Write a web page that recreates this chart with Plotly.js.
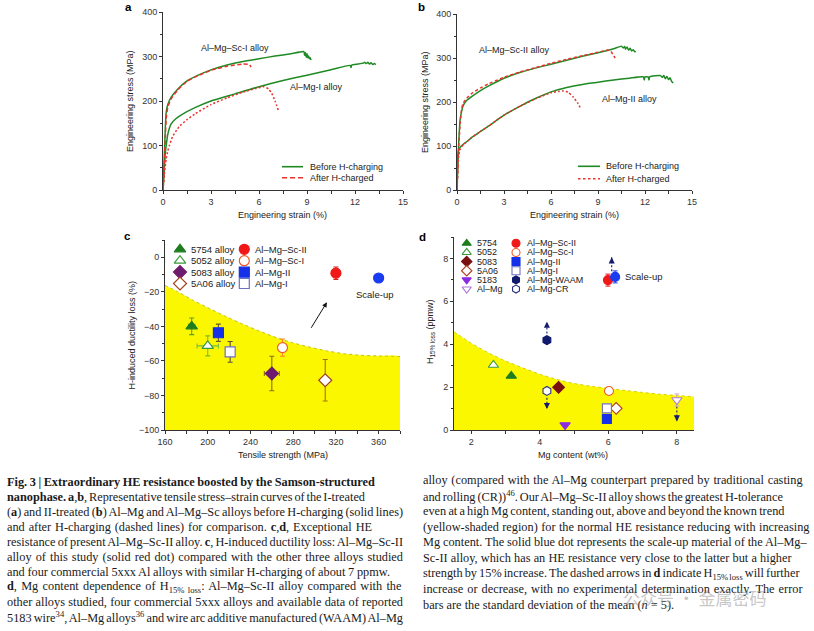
<!DOCTYPE html>
<html><head><meta charset="utf-8">
<script src="https://cdn.plot.ly/plotly-3.0.1.min.js"></script>
<style>html,body{margin:0;padding:0;background:#fff}#chart{width:814px;height:631px}</style>
</head><body><div id="chart"></div>
<script>
// ---------------- DATA ----------------
// Panel a (I-treated) stress-strain
const aScIStrain = [0,0.05,0.1,0.15,0.2,0.3,0.5,0.9,1.5,2.2,3,4,5,6,7,8,8.8,8.85,8.9,8.95,9.0,9.05,9.1,9.15,9.2,9.25];
const aScIStress = [0,45,95,145,175,192,208,226,245,258,270,281,289,295,301,306,311,303,309,298,306,297,301,295,297,292];
const aScIHStrain = [0,0.05,0.1,0.15,0.2,0.3,0.5,0.9,1.5,2.2,3,4,5,5.4,5.5];
const aScIHStress = [0,30,70,120,160,186,204,224,244,257,269,278,283,282,276];
const aMgIStrain = [0,0.05,0.1,0.15,0.2,0.3,0.5,0.8,1.2,2,3,4.5,6,7.5,9,10.5,11.7,11.75,11.8,12.2,12.5,12.6,12.7,12.8,12.9,13.0,13.1,13.2,13.3];
const aMgIStress = [0,30,60,85,100,125,148,160,170,185,200,216,232,246,258,270,280,275,281,283,285,287,284,287,283,286,282,284,282];
const aMgIHStrain = [0,0.1,0.2,0.3,0.4,0.6,1,1.5,2,3,4,5,5.8,6.3,6.6,6.8,7.0,7.2];
const aMgIHStress = [0,40,70,88,100,120,142,158,171,192,207,220,228,232,227,217,200,180];
// Panel b (II-treated)
const bScIIStrain = [0,0.05,0.1,0.2,0.3,0.4,0.6,1,1.5,2,3,4,5,6,7,8,9,10,10.5,10.6,10.7,10.75,10.85,10.95,11.05,11.15,11.25,11.35,11.4];
const bScIIStress = [0,50,100,160,180,192,203,214,226,236,254,267,277,286,295,304,312,321,327,323,326,320,325,318,322,316,319,314,316];
const bScIIHStrain = [0,0.05,0.1,0.2,0.3,0.4,0.6,1,1.5,2,3,4,5,6,7,8,9,9.6,9.8,9.9,10.0,10.1];
const bScIIHStress = [0,40,90,150,185,198,208,221,232,241,256,268,278,288,297,305,313,318,316,311,305,300];
const bMgIIStrain = [0,0.02,0.05,0.1,0.2,0.4,0.7,1,1.5,2,3,4,5,6,7,8,9,10,11,11.9,11.95,12.0,12.2,12.25,12.3,13,13.1,13.2,13.3,13.4,13.5,13.6,13.7,13.8];
const bMgIIStress = [0,60,80,90,97,104,112,121,133,145,170,190,208,223,233,240,245,250,254,257,250,257,257,250,257,260,256,260,253,258,251,255,247,243];
const bMgIIHStrain = [0,0.05,0.1,0.2,0.4,0.7,1,1.5,2,3,4,5,6,6.5,6.8,7.1,7.4,7.7,7.9];
const bMgIIHStress = [0,50,75,92,103,112,121,133,145,170,190,207,221,224,225,222,212,198,185];

// Panel c
const cNames = ['5754 alloy','5052 alloy','5083 alloy','5A06 alloy','Al–Mg–Sc-II','Al–Mg–Sc-I','Al–Mg-II','Al–Mg-I','Scale-up'];
const cStrength = [185,200,260,310,320,270,210,221,360];
const cStrengthErr = [3,10,7,2,3,2,2,2,4];
const cLoss = [-40,-51.3,-67.3,-71.2,-9.2,-52.3,-43.7,-54.8,-12];
const cLossErr = [4.8,5.8,10,12,3.6,5,5,6,1.5];
const cTrendX = [160,171,186.6,202,218,233,249,265,280,296,311.6,327,343,358,380];
const cTrendY = [-16.3,-19.6,-25,-29.8,-34.6,-38.8,-42.9,-46.7,-49.6,-52.1,-54.2,-55.8,-56.7,-57.1,-57.5];
const cArrow = {x0:296, y0:-41.7, x1:311.6, y1:-26};

// Panel d
const dNames = ['5754','5052','5083','5A06','5183','Al–Mg','Al–Mg–Sc-II','Al–Mg–Sc-I','Al–Mg-II','Al–Mg-I','Al–Mg-WAAM','Al–Mg-CR','Scale-up'];
const dMg = [3.17,2.65,4.55,6.23,4.74,8.0,5.99,6.02,5.96,5.96,4.21,4.21,6.2];
const dH = [2.52,3.03,1.99,1.01,0.23,1.40,6.99,1.82,0.51,1.01,4.19,1.82,7.14];
const dHErr = [0,0,0,0,0,0.28,0.28,0,0,0,0,0,0.28];
const dTrendX = [1.5,2,2.5,3,3.5,4,4.5,5,5.5,6,6.5,7,7.5,8,8.5];
const dTrendY = [4.58,4.05,3.6,3.22,2.9,2.6,2.36,2.17,2.04,1.94,1.84,1.75,1.67,1.61,1.55];
const dArrowX = [4.21,6.1,4.21,8.0];
const dArrowFrom = [4.5,7.4,1.5,1.1];
const dArrowTo = [5.05,8.05,0.98,0.4];

// ---------------- STYLES ----------------
const W = 814, H = 631;
const GREEN = '#1f8a24', RED = '#e8322c';
const FONT = 'Liberation Sans, Arial, sans-serif';
const cStyle = [
  {sym:'triangle-up', fill:'#1e7d1e', line:'#1e7d1e', err:'#5aa02c'},
  {sym:'triangle-up', fill:'#ffffff', line:'#3a9a3a', err:'#7cbb3c'},
  {sym:'diamond', fill:'#6e1a6e', line:'#6e1a6e', err:'#8a6d1a'},
  {sym:'diamond', fill:'#ffffff', line:'#a0421e', err:'#a8741a'},
  {sym:'circle', fill:'#f01818', line:'#f01818', err:'#d82020'},
  {sym:'circle', fill:'#ffffff', line:'#f05a28', err:'#f08a28'},
  {sym:'square', fill:'#1530e8', line:'#1530e8', err:'#6a5a2a'},
  {sym:'square', fill:'#ffffff', line:'#7070c0', err:'#555040'},
  {sym:'circle', fill:'#1a3cf0', line:'#1a3cf0', err:'#3050f0'}
];
const dStyle = [
  {sym:'triangle-up', fill:'#1e7d1e', line:'#1e7d1e'},
  {sym:'triangle-up', fill:'#ffffff', line:'#3a9a3a'},
  {sym:'diamond', fill:'#7a0f0f', line:'#7a0f0f'},
  {sym:'diamond', fill:'#ffffff', line:'#b0421e'},
  {sym:'triangle-down', fill:'#8a2be2', line:'#8a2be2'},
  {sym:'triangle-down', fill:'#ffffff', line:'#b07ad8'},
  {sym:'circle', fill:'#f01818', line:'#f01818'},
  {sym:'circle', fill:'#ffffff', line:'#f05a28'},
  {sym:'square', fill:'#1530e8', line:'#1530e8'},
  {sym:'square', fill:'#ffffff', line:'#7070c0'},
  {sym:'hexagon', fill:'#0f1a6e', line:'#0f1a6e'},
  {sym:'hexagon', fill:'#ffffff', line:'#2a3080'},
  {sym:'circle', fill:'#1a3cf0', line:'#1a3cf0'}
];

const traces = [];
function curve(x, y, xa, ya, color, dash) {
  traces.push({x:x, y:y, xaxis:xa, yaxis:ya, type:'scatter', mode:'lines', showlegend:false, hoverinfo:'skip',
    line:{color:color, width:1.5, dash:dash, shape:'spline', smoothing:0.5}});
}
curve(aScIStrain, aScIStress, 'x', 'y', GREEN, 'solid');
curve(aMgIStrain, aMgIStress, 'x', 'y', GREEN, 'solid');
curve(aScIHStrain, aScIHStress, 'x', 'y', RED, '4px,2.5px');
curve(aMgIHStrain, aMgIHStress, 'x', 'y', RED, '2px,2px');
curve(bScIIStrain, bScIIStress, 'x2', 'y2', GREEN, 'solid');
curve(bMgIIStrain, bMgIIStress, 'x2', 'y2', GREEN, 'solid');
curve(bScIIHStrain, bScIIHStress, 'x2', 'y2', RED, '3px,2.5px');
curve(bMgIIHStrain, bMgIIHStress, 'x2', 'y2', RED, '2px,2px');

// c: yellow region
const cRangeX = [160,380], cRangeY = [-100,10];
traces.push({x:cTrendX.concat([cRangeX[1], cRangeX[0]]), y:cTrendY.concat([cRangeY[0], cRangeY[0]]),
  xaxis:'x3', yaxis:'y3', type:'scatter', mode:'lines', fill:'toself', fillcolor:'#fbf700',
  line:{width:0, color:'rgba(0,0,0,0)', shape:'spline', smoothing:0.4}, showlegend:false, hoverinfo:'skip'});
traces.push({x:cTrendX, y:cTrendY, xaxis:'x3', yaxis:'y3', type:'scatter', mode:'lines',
  line:{width:1, color:'#c9c200', dash:'dot', shape:'spline', smoothing:0.4}, showlegend:false, hoverinfo:'skip'});
cStrength.forEach((v,i)=>{
  const s = cStyle[i];
  traces.push({x:[v], y:[cLoss[i]], xaxis:'x3', yaxis:'y3', type:'scatter', mode:'markers', showlegend:false, hoverinfo:'skip',
    marker:{symbol:s.sym, size:10, color:s.fill, line:{color:s.line, width:1.2}},
    error_y:{type:'data', array:[cLossErr[i]], color:s.err, thickness:1.1, width:2.5},
    error_x:{type:'data', array:[cStrengthErr[i]], color:s.err, thickness:1.1, width:2.5}});
});

// d: yellow region
traces.push({x:dTrendX, y:dTrendY, xaxis:'x4', yaxis:'y4', type:'scatter', mode:'lines', fill:'tozeroy', fillcolor:'#fbf700',
  line:{width:1, color:'#d6d000', dash:'dot', shape:'spline', smoothing:0.4}, showlegend:false, hoverinfo:'skip'});
// dashed arrow shafts
dArrowX.forEach((x,i)=>{
  traces.push({x:[x,x], y:[dArrowFrom[i], dArrowTo[i]], xaxis:'x4', yaxis:'y4', type:'scatter', mode:'lines',
    line:{color:'#141c6e', width:1.1, dash:'2px,2px'}, showlegend:false, hoverinfo:'skip'});
});
dMg.forEach((v,i)=>{
  const s = dStyle[i];
  const t = {x:[v], y:[dH[i]], xaxis:'x4', yaxis:'y4', type:'scatter', mode:'markers', showlegend:false, hoverinfo:'skip',
    marker:{symbol:s.sym, size:9, color:s.fill, line:{color:s.line, width:1.1}}};
  if (dHErr[i] > 0) t.error_y = {type:'data', array:[dHErr[i]], color:s.line === '#b07ad8' ? '#d0a8d8' : s.line, thickness:1, width:2.5};
  traces.push(t);
});

// --------- overlay axis (pixel coords) for legends ---------
function legendLine(x0, x1, y, color, dash) {
  traces.push({x:[x0,x1], y:[y,y], xaxis:'x5', yaxis:'y5', type:'scatter', mode:'lines', showlegend:false, hoverinfo:'skip',
    line:{color:color, width:1.6, dash:dash}});
}
legendLine(282, 303, 166.7, GREEN, 'solid');
legendLine(282, 303, 177.7, RED, '5px,3px');
legendLine(578, 600, 166.3, GREEN, 'solid');
legendLine(578, 600, 178.7, RED, '2.5px,2.5px');

const cLegendIdx = [0,1,2,3,4,5,6,7];
const cLegX = cLegendIdx.map(i => i < 4 ? 180 : 244.3);
const cLegY = cLegendIdx.map(i => 249.3 + 11.4 * (i % 4));
traces.push({x:cLegX, y:cLegY, xaxis:'x5', yaxis:'y5', type:'scatter', mode:'markers', showlegend:false, hoverinfo:'skip',
  marker:{symbol:cLegendIdx.map(i=>cStyle[i].sym), size:10, color:cLegendIdx.map(i=>cStyle[i].fill),
    line:{color:cLegendIdx.map(i=>cStyle[i].line), width:1.2}}});
const dLegendIdx = [0,1,2,3,4,5,6,7,8,9,10,11];
const dLegX = dLegendIdx.map(i => i < 6 ? 466.7 : 516);
const dLegY = dLegendIdx.map(i => 243.3 + 9.15 * (i % 6));
traces.push({x:dLegX, y:dLegY, xaxis:'x5', yaxis:'y5', type:'scatter', mode:'markers', showlegend:false, hoverinfo:'skip',
  marker:{symbol:dLegendIdx.map(i=>dStyle[i].sym), size:8, color:dLegendIdx.map(i=>dStyle[i].fill),
    line:{color:dLegendIdx.map(i=>dStyle[i].line), width:1.1}}});

// ---------------- LAYOUT ----------------
const tf = {family:FONT, size:9, color:'#333'};
function ax(domain, range, extra) {
  return Object.assign({domain:domain, range:range, autorange:false, showline:true, linecolor:'#333', linewidth:1,
    ticks:'outside', ticklen:3, tickwidth:1, tickcolor:'#333', showgrid:false, zeroline:false,
    tickfont:tf, fixedrange:true, automargin:false}, extra);
}
function dom(p0, p1) { return [p0 / W, p1 / W]; }
function domY(top, bottom) { return [1 - bottom / H, 1 - top / H]; }
const minor = (d) => ({dtick:d, ticks:'outside', ticklen:2.5, tickcolor:'#333', tickwidth:1, showgrid:false});

const layout = {
  width:W, height:H, margin:{l:0,r:0,t:0,b:0}, paper_bgcolor:'#fff', plot_bgcolor:'rgba(0,0,0,0)',
  showlegend:false, hovermode:false, font:{family:FONT, size:9, color:'#333'},
  xaxis: ax(dom(163,403), [0,15], {anchor:'y', tick0:0, dtick:3, minor:minor(1.5)}),
  yaxis: ax(domY(12,190), [0,400], {anchor:'x', tick0:0, dtick:100, minor:minor(50)}),
  xaxis2: ax(dom(457,692), [0,15], {anchor:'y2', tick0:0, dtick:3, minor:minor(1.5)}),
  yaxis2: ax(domY(14,190), [0,400], {anchor:'x2', tick0:0, dtick:100, minor:minor(50)}),
  xaxis3: ax(dom(165,400), cRangeX, {anchor:'y3', tick0:160, dtick:40, minor:minor(20)}),
  yaxis3: ax(domY(240,430), cRangeY, {anchor:'x3', tick0:0, dtick:20, minor:minor(10)}),
  xaxis4: ax(dom(454,694), [1.5,8.5], {anchor:'y4', tickvals:[2,4,6,8], minor:{tickvals:[2,3,4,5,6,7,8], ticks:'outside', ticklen:2.5, tickcolor:'#333'}}),
  yaxis4: ax(domY(237,430), [0,9], {anchor:'x4', tick0:0, dtick:2, minor:minor(1)}),
  xaxis5: {domain:[0,1], range:[0,W], autorange:false, visible:false, fixedrange:true, anchor:'y5'},
  yaxis5: {domain:[0,1], range:[H,0], autorange:false, visible:false, fixedrange:true, anchor:'x5'},
  annotations: [],
  shapes: []
};
const A = layout.annotations;
function pText(text, x, y, opts) {
  A.push(Object.assign({text:text, x:x, y:y, xref:'x5', yref:'y5', showarrow:false, xanchor:'center', yanchor:'middle',
    font:{family:FONT, size:9, color:'#222'}}, opts || {}));
  return A.length - 1;
}
// panel letters
pText('<b>a</b>', 128, 7, {font:{family:FONT, size:11.5, color:'#000'}});
pText('<b>b</b>', 421, 7, {font:{family:FONT, size:11.5, color:'#000'}});
pText('<b>c</b>', 127, 236, {font:{family:FONT, size:11.5, color:'#000'}});
pText('<b>d</b>', 422, 237, {font:{family:FONT, size:11.5, color:'#000'}});
// axis titles
pText('Engineering stress (MPa)', 130, 101, {textangle:-90});
pText('Engineering strain (%)', 282, 214.5);
pText('Engineering stress (MPa)', 425, 102, {textangle:-90});
pText('Engineering strain (%)', 574, 214.5);
pText('H-induced ductility loss (%)', 131.5, 335, {textangle:-90});
pText('Tensile strength (MPa)', 282.5, 455);
pText('H<sub>15% loss</sub> (ppmw)', 430, 332, {textangle:-90});
pText('Mg content (wt%)', 573, 455);
// a/b legends
pText('Before H-charging', 308, 166.7, {xanchor:'left'});
pText('After H-charged', 308, 177.7, {xanchor:'left'});
pText('Before H-charging', 604, 166.3, {xanchor:'left'});
pText('After H-charged', 604, 178.7, {xanchor:'left'});
// c/d legend labels
cLegendIdx.forEach((i,k)=>pText(cNames[i], cLegX[k] + 9, cLegY[k], {xanchor:'left', font:{family:FONT, size:9.5, color:'#222'}}));
dLegendIdx.forEach((i,k)=>pText(dNames[i], dLegX[k] + 8.5, dLegY[k], {xanchor:'left', font:{family:FONT, size:9, color:'#222'}}));

// curve labels (data coords)
function dText(text, x, y, xr, yr, opts) {
  A.push(Object.assign({text:text, x:x, y:y, xref:xr, yref:yr, showarrow:false, xanchor:'center', yanchor:'middle',
    font:{family:FONT, size:9, color:'#222'}}, opts || {}));
}
dText('Al–Mg–Sc-I alloy', 4.5, 320, 'x', 'y');
dText('Al–Mg-I alloy', 9.6, 231, 'x', 'y');
dText('Al–Mg–Sc-II alloy', 3.7, 318, 'x2', 'y2');
dText('Al–Mg-II alloy', 11.0, 206, 'x2', 'y2');
dText('Scale-up', 357, -21.5, 'x3', 'y3', {font:{family:FONT, size:9.5, color:'#222'}});
dText('Scale-up', 6.43, 7.14, 'x4', 'y4', {xanchor:'left', font:{family:FONT, size:9.5, color:'#222'}});
// c arrow
A.push({x:cArrow.x1, y:cArrow.y1, ax:cArrow.x0, ay:cArrow.y0, xref:'x3', yref:'y3', axref:'x3', ayref:'y3',
  showarrow:true, arrowhead:2, arrowsize:1, arrowwidth:1, arrowcolor:'#111', text:''});
// d arrow heads
dArrowX.forEach((x,i)=>{
  const up = dArrowTo[i] > dArrowFrom[i];
  A.push({x:x, y:dArrowTo[i], xref:'x4', yref:'y4', ax:0, ay: up ? 5 : -5, showarrow:true, arrowhead:2, arrowsize:1.1,
    arrowwidth:1.1, arrowcolor:'#141c6e', text:''});
});

// caption
const capLeft = [
  '<b>Fig. 3 | Extraordinary HE resistance boosted by the Samson-structured</b>',
  '<b>nanophase. a</b>,<b>b</b>, Representative tensile stress–strain curves of the I-treated',
  '(<b>a</b>) and II-treated (<b>b</b>) Al–Mg and Al–Mg–Sc alloys before H-charging (solid lines)',
  'and after H-charging (dashed lines) for comparison. <b>c</b>,<b>d</b>, Exceptional HE',
  'resistance of present Al–Mg–Sc-II alloy. <b>c</b>, H-induced ductility loss: Al–Mg–Sc-II',
  'alloy of this study (solid red dot) compared with the other three alloys studied',
  'and four commercial 5xxx Al alloys with similar H-charging of about 7 ppmw.',
  '<b>d</b>, Mg content dependence of H<sub>15% loss</sub>: Al–Mg–Sc-II alloy compared with the',
  'other alloys studied, four commercial 5xxx alloys and available data of reported',
  '5183 wire<sup>34</sup>, Al–Mg alloys<sup>36</sup> and wire arc additive manufactured (WAAM) Al–Mg'
];
const capRight = [
  'alloy (compared with the Al–Mg counterpart prepared by traditional casting',
  'and rolling (CR))<sup>46</sup>. Our Al–Mg–Sc-II alloy shows the greatest H-tolerance',
  'even at a high Mg content, standing out, above and beyond the known trend',
  '(yellow-shaded region) for the normal HE resistance reducing with increasing',
  'Mg content. The solid blue dot represents the scale-up material of the Al–Mg–',
  'Sc-II alloy, which has an HE resistance very close to the latter but a higher',
  'strength by 15% increase. The dashed arrows in <b>d</b> indicate H<sub>15% loss</sub> will further',
  'increase or decrease, with no experimental determination exactly. The error',
  'bars are the standard deviation of the mean (<i>n</i> = 5).'
];
// right edges of each caption line as set in the reference (justified text)
const capLeftEnd = [375, 365, 403, 372, 403, 403, 390, 402, 403, 403];
const capRightEnd = [802, 783, 784, 809, 807, 791, 799, 802, 0];
const CAPFONT = {family:'Liberation Serif, Times New Roman, serif', size:12.3, color:'#1a1a1a'};
const justify = [];
capLeft.forEach((t,i)=>{
  const k = pText(t, 5, 481.7 + 15 * i, {xanchor:'left', align:'left', font:CAPFONT});
  justify.push({idx:k, x0:5, x1:capLeftEnd[i]});
});
capRight.forEach((t,i)=>{
  const k = pText(t, 420.5, 480 + 15.6 * i, {xanchor:'left', align:'left', font:CAPFONT});
  if (capRightEnd[i] > 0) justify.push({idx:k, x0:420.5, x1:capRightEnd[i]});
});
// watermark
pText('公众号 · 金属密码', 695, 597, {font:{family:'Noto Sans CJK SC, sans-serif', size:17, color:'rgba(150,150,150,0.55)'}});

Plotly.newPlot('chart', traces, layout, {staticPlot:true, displayModeBar:false}).then(gd => {
  justify.forEach(j => {
    const g = gd.querySelector('g.annotation[data-index="' + j.idx + '"] text.annotation-text');
    if (!g) return;
    const w = g.getBBox().width;
    const n = (g.textContent.match(/ /g) || []).length;
    if (n > 0) {
      const ws = (j.x1 - j.x0 - 2 - w) / n;
      g.style.wordSpacing = ws.toFixed(2) + 'px';
    }
  });
});
</script></body></html>
